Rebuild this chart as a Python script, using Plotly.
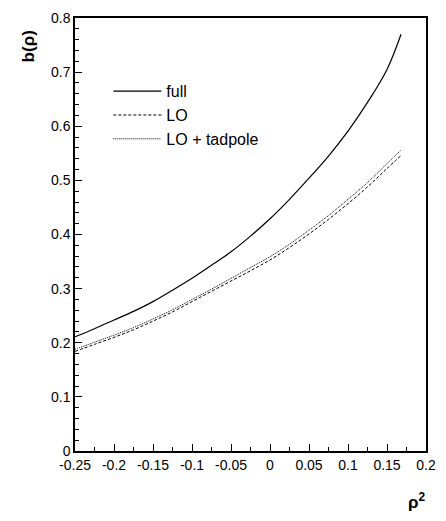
import plotly.graph_objects as go

x_vals = [-0.25, -0.225, -0.2, -0.175, -0.15, -0.125, -0.1, -0.075, -0.05, -0.025,
          0.0, 0.025, 0.05, 0.075, 0.1, 0.125, 0.15, 0.168]
full = [0.211, 0.226, 0.242, 0.258, 0.276, 0.297, 0.319, 0.343, 0.368, 0.397,
        0.429, 0.465, 0.504, 0.545, 0.591, 0.644, 0.705, 0.770]
lo = [0.184, 0.197, 0.210, 0.224, 0.240, 0.257, 0.276, 0.295, 0.314, 0.333,
      0.353, 0.376, 0.401, 0.428, 0.457, 0.488, 0.522, 0.546]
lo_tad = [0.188, 0.201, 0.214, 0.228, 0.244, 0.261, 0.280, 0.299, 0.319, 0.339,
          0.359, 0.382, 0.408, 0.435, 0.465, 0.496, 0.531, 0.556]
names = ["full", "LO", "LO + tadpole"]
x_ticks = [-0.25, -0.2, -0.15, -0.1, -0.05, 0, 0.05, 0.1, 0.15, 0.2]
x_tick_text = ["-0.25", "-0.2", "-0.15", "-0.1", "-0.05", "0", "0.05", "0.1", "0.15", "0.2"]
y_ticks = [0, 0.1, 0.2, 0.3, 0.4, 0.5, 0.6, 0.7, 0.8]
y_tick_text = ["0", "0.1", "0.2", "0.3", "0.4", "0.5", "0.6", "0.7", "0.8"]

fig = go.Figure()
fig.add_trace(go.Scatter(x=x_vals, y=full, mode="lines", name=names[0],
                         line=dict(color="black", width=1.2, shape="spline")))
fig.add_trace(go.Scatter(x=x_vals, y=lo, mode="lines", name=names[1],
                         line=dict(color="black", width=1, dash="3px,2px", shape="spline")))
fig.add_trace(go.Scatter(x=x_vals, y=lo_tad, mode="lines", name=names[2],
                         line=dict(color="black", width=1, dash="1px,1px", shape="spline")))

axis_common = dict(showgrid=False, zeroline=False, showline=True, linecolor="black",
                   linewidth=1.5, mirror=True, ticks="inside", tickcolor="black",
                   tickfont=dict(family="Liberation Sans, Arial", size=14, color="black"))

fig.update_xaxes(range=[-0.25, 0.2], tickvals=x_ticks, ticktext=x_tick_text,
                 ticklen=7, tickwidth=1,
                 minor=dict(dtick=0.025, tick0=0, ticklen=4, ticks="inside", tickcolor="black"),
                 **axis_common)
fig.update_yaxes(range=[0, 0.8], tickvals=y_ticks, ticktext=y_tick_text,
                 ticklen=7, tickwidth=1,
                 minor=dict(dtick=0.02, tick0=0, ticklen=4, ticks="inside", tickcolor="black"),
                 **axis_common)

fig.update_layout(
    width=446, height=521,
    margin=dict(l=75, r=11, t=10, b=70),
    paper_bgcolor="white", plot_bgcolor="white",
    showlegend=True,
    legend=dict(x=0.095, y=0.87, xanchor="left", yanchor="top",
                bgcolor="rgba(0,0,0,0)", borderwidth=0, itemwidth=48,
                font=dict(family="Liberation Sans, Arial", size=16, color="black"),
                tracegroupgap=0),
    annotations=[
        dict(text="<b>b(ρ)</b>", xref="paper", yref="paper", x=-0.165, y=0.975,
             showarrow=False, textangle=-90,
             font=dict(family="Liberation Sans, Arial", size=17, color="black")),
        dict(text="<b>ρ<sup>2</sup></b>", xref="paper", yref="paper", x=0.975, y=-0.085,
             showarrow=False, xanchor="center", yanchor="top",
             font=dict(family="Liberation Sans, Arial", size=17, color="black")),
    ],
)

fig.write_html("out.html")
